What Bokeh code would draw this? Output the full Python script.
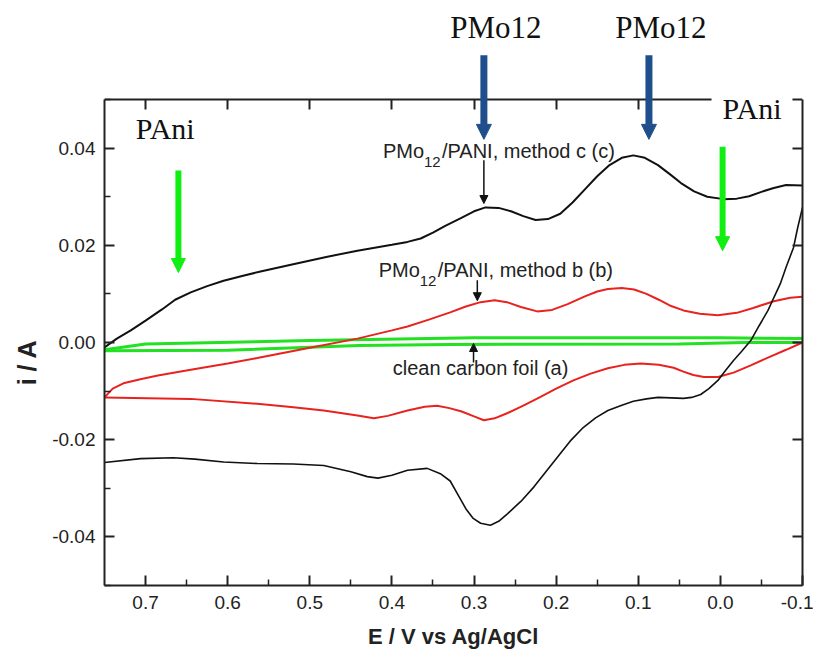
from bokeh.plotting import figure
from bokeh.models import (Range1d, LinearAxis, FixedTicker, PrintfTickFormatter,
                          Label, Arrow, NormalHead)
from bokeh.embed import file_html
from bokeh.resources import INLINE

# ---------------- data ----------------
# method c (black) - anodic (upper) branch
c_up_E = [0.750, 0.735, 0.718, 0.700, 0.680, 0.664, 0.645, 0.625, 0.605, 0.580, 0.560,
          0.523, 0.480, 0.442, 0.400, 0.381, 0.365, 0.350, 0.335, 0.316, 0.300, 0.286,
          0.270, 0.255, 0.240, 0.225, 0.210, 0.195, 0.180, 0.165, 0.150, 0.135, 0.120,
          0.106, 0.092, 0.076, 0.062, 0.048, 0.032, 0.016, -0.004, -0.020, -0.035,
          -0.050, -0.065, -0.080, -0.100]
c_up_i = [-0.0010, 0.0008, 0.0025, 0.0045, 0.0068, 0.0088, 0.0103, 0.0116, 0.0127, 0.0138,
          0.0146, 0.0160, 0.0176, 0.0189, 0.0201, 0.0207, 0.0214, 0.0226, 0.0240, 0.0256,
          0.0270, 0.0278, 0.0277, 0.0270, 0.0260, 0.0252, 0.0254, 0.0265, 0.0288, 0.0315,
          0.0342, 0.0365, 0.0380, 0.0385, 0.0380, 0.0365, 0.0347, 0.0328, 0.0311, 0.0300,
          0.0295, 0.0296, 0.0301, 0.0310, 0.0318, 0.0324, 0.0323]
# method c (black) - cathodic (lower) branch
c_dn_E = [-0.100, -0.094, -0.089, -0.080, -0.073, -0.065, -0.058, -0.047, -0.037, -0.026,
          -0.016, -0.006, 0.003, 0.014, 0.024, 0.035, 0.045, 0.060, 0.076, 0.090, 0.106,
          0.120, 0.137, 0.152, 0.167, 0.183, 0.198, 0.213, 0.227, 0.243, 0.259, 0.270,
          0.280, 0.292, 0.301, 0.310, 0.320, 0.329, 0.341, 0.357, 0.381, 0.400, 0.417,
          0.430, 0.450, 0.483, 0.520, 0.564, 0.605, 0.640, 0.666, 0.706, 0.750]
c_dn_i = [0.0278, 0.0235, 0.0195, 0.0155, 0.0121, 0.0092, 0.0066, 0.0034, 0.0004, -0.0018,
          -0.0037, -0.0058, -0.0078, -0.0095, -0.0107, -0.0113, -0.0115, -0.0114, -0.0113,
          -0.0116, -0.0121, -0.0129, -0.0140, -0.0155, -0.0175, -0.0203, -0.0235, -0.0267,
          -0.0297, -0.0327, -0.0352, -0.0368, -0.0376, -0.0372, -0.0362, -0.0342, -0.0312,
          -0.0285, -0.0270, -0.0259, -0.0263, -0.0273, -0.0279, -0.0276, -0.0266, -0.0253,
          -0.0250, -0.0249, -0.0246, -0.0240, -0.0237, -0.0239, -0.0247]
# method b (red)
b_up_E = [0.750, 0.740, 0.727, 0.705, 0.685, 0.645, 0.600, 0.564, 0.503, 0.442, 0.400,
          0.381, 0.355, 0.329, 0.310, 0.292, 0.275, 0.260, 0.243, 0.223, 0.205, 0.186,
          0.165, 0.150, 0.137, 0.120, 0.105, 0.090, 0.075, 0.060, 0.045, 0.025, 0.003,
          -0.020, -0.040, -0.065, -0.085, -0.100]
b_up_i = [-0.0113, -0.0095, -0.0084, -0.0075, -0.0068, -0.0056, -0.0043, -0.0032, -0.0012,
          0.0008, 0.0025, 0.0033, 0.0047, 0.0062, 0.0074, 0.0083, 0.0087, 0.0083, 0.0073,
          0.0064, 0.0067, 0.0079, 0.0095, 0.0105, 0.0110, 0.0112, 0.0109, 0.0100, 0.0088,
          0.0075, 0.0066, 0.0059, 0.0056, 0.0061, 0.0071, 0.0085, 0.0092, 0.0094]
b_dn_E = [-0.100, -0.080, -0.058, -0.037, -0.016, 0.003, 0.020, 0.033, 0.045, 0.057, 0.075,
          0.097, 0.117, 0.137, 0.158, 0.179, 0.200, 0.219, 0.240, 0.259, 0.275, 0.288, 0.300,
          0.315, 0.330, 0.345, 0.360, 0.381, 0.405, 0.422, 0.442, 0.483, 0.520, 0.564, 0.645,
          0.750]
b_dn_i = [0.0000, -0.0015, -0.0031, -0.0047, -0.0062, -0.0071, -0.0071, -0.0067, -0.0060,
          -0.0052, -0.0046, -0.0043, -0.0046, -0.0053, -0.0064, -0.0078, -0.0095, -0.0112,
          -0.0130, -0.0145, -0.0156, -0.0160, -0.0152, -0.0142, -0.0135, -0.0130, -0.0132,
          -0.0140, -0.0151, -0.0156, -0.0150, -0.0140, -0.0133, -0.0126, -0.0116, -0.0113]
# clean carbon foil (green)
a_up_E = [0.750, 0.700, 0.500, 0.300, 0.000, -0.100]
a_up_i = [-0.0015, -0.0003, 0.0004, 0.0010, 0.0010, 0.0008]
a_dn_E = [0.750, 0.600, 0.440, 0.330, 0.050, -0.030, -0.100]
a_dn_i = [-0.0017, -0.0016, -0.0006, -0.0004, -0.0003, 0.0000, 0.0000]

x_major = [0.7, 0.6, 0.5, 0.4, 0.3, 0.2, 0.1, 0.0, -0.1]
x_minor = [0.65, 0.55, 0.45, 0.35, 0.25, 0.15, 0.05, -0.05]
y_major = [-0.04, -0.02, 0.0, 0.02, 0.04]
y_minor = [-0.05, -0.03, -0.01, 0.01, 0.03, 0.05]
y_lo, y_hi = -0.05, 0.05

# curve labels: (main text, subscript, rest), anchor E, centre i
label_head = ["PMo", "PMo", "clean carbon foil (a)"]
label_sub = ["12", "12", ""]
label_tail = ["/PANI, method c (c)", "/PANI, method b (b)", ""]
label_E = [0.411, 0.416, 0.399]
label_i = [0.0395, 0.0150, -0.0053]
pointer_E = [0.288, 0.296, 0.3006]
pointer_i0 = [0.0375, 0.0128, -0.0041]
pointer_i1 = [0.0286, 0.0086, -0.0002]

pmo_E = [0.288, 0.087]
pmo_i0, pmo_i1, pmo_text_i = 0.0591, 0.0418, 0.0648
pani_E = [0.660, -0.0027]
pani_i0 = [0.0354, 0.0403]
pani_i1 = [0.0144, 0.0189]

# ---------------- figure ----------------
W, H = 813, 655
FRAME_TOP_I = 0.07037      # frame reaches the canvas top so the arrows above the box show
p = figure(width=W, height=H, output_backend="svg", toolbar_location=None,
           x_range=Range1d(0.75, -0.1), y_range=Range1d(y_lo, FRAME_TOP_I),
           min_border_left=104, min_border_right=11, min_border_top=0, min_border_bottom=70,
           x_axis_label="E / V vs Ag/AgCl", y_axis_label="i / A" + "\u00a0" * 20)
p.outline_line_color = None
p.grid.visible = False
p.background_fill_color = "white"
p.border_fill_color = "white"

SANS = "Liberation Sans"
SERIF = "Liberation Serif"
INK = "#222222"

def style_axis(ax):
    ax.axis_line_width = 2
    ax.axis_line_color = INK
    ax.major_tick_line_width = 2
    ax.major_tick_line_color = INK
    ax.minor_tick_line_width = 1.5
    ax.minor_tick_line_color = INK
    ax.major_tick_in = 10
    ax.major_tick_out = 0
    ax.minor_tick_in = 6
    ax.minor_tick_out = 0

xa = p.xaxis[0]
xa.ticker = FixedTicker(ticks=x_major, minor_ticks=x_minor)
xa.formatter = PrintfTickFormatter(format="%.1f")
style_axis(xa)
xa.major_label_text_font = SANS
xa.major_label_text_font_size = "19px"
xa.major_label_text_color = INK
xa.major_label_standoff = 10
xa.axis_label_text_font = SANS
xa.axis_label_text_font_size = "22px"
xa.axis_label_text_font_style = "bold"
xa.axis_label_text_color = INK
xa.axis_label_standoff = 12

ya = p.yaxis[0]
ya.ticker = FixedTicker(ticks=y_major, minor_ticks=y_minor)
ya.formatter = PrintfTickFormatter(format="%.2f")
ya.bounds = (y_lo, y_hi)
style_axis(ya)
ya.major_label_text_font = SANS
ya.major_label_text_font_size = "19px"
ya.major_label_text_color = INK
ya.major_label_standoff = 9
ya.axis_label_text_font = SANS
ya.axis_label_text_font_size = "25px"
ya.axis_label_text_font_style = "bold"
ya.axis_label_text_color = INK
ya.axis_label_standoff = 8

top = LinearAxis(ticker=FixedTicker(ticks=x_major[:-1], minor_ticks=[]),
                 fixed_location=y_hi,
                 major_label_overrides={t: "" for t in x_major})
style_axis(top)
top.major_label_standoff = 0
p.add_layout(top, "above")

right = LinearAxis(ticker=FixedTicker(ticks=y_major, minor_ticks=[]), bounds=(y_lo, y_hi),
                   major_label_overrides={t: "" for t in y_major})
style_axis(right)
right.major_label_standoff = 0
p.add_layout(right, "right")

# ---------------- curves ----------------
p.line(a_up_E, a_up_i, line_color="#22e022", line_width=3)
p.line(a_dn_E, a_dn_i, line_color="#22e022", line_width=3)
p.line(b_up_E, b_up_i, line_color="#e8231f", line_width=2)
p.line(b_dn_E, b_dn_i, line_color="#e8231f", line_width=2)
p.line(c_up_E, c_up_i, line_color="#111111", line_width=2)
p.line(c_dn_E, c_dn_i, line_color="#111111", line_width=1.6)

# ---------------- annotations ----------------
for head, sub, tail, xe, yi in zip(label_head, label_sub, label_tail, label_E, label_i):
    p.add_layout(Label(x=xe, y=yi, text=head, text_font=SANS, text_font_size="20px",
                       text_color=INK, text_align="left", text_baseline="middle"))
    if sub:
        p.add_layout(Label(x=xe, y=yi, x_offset=41, y_offset=-11, text=sub, text_font=SANS,
                           text_font_size="15px", text_color=INK, text_align="left",
                           text_baseline="middle"))
        p.add_layout(Label(x=xe, y=yi, x_offset=59, text=tail, text_font=SANS,
                           text_font_size="20px", text_color=INK, text_align="left",
                           text_baseline="middle"))
for xe, y0, y1 in zip(pointer_E, pointer_i0, pointer_i1):
    p.add_layout(Arrow(x_start=xe, y_start=y0, x_end=xe, y_end=y1, line_color="#111111",
                       line_width=1.5,
                       end=NormalHead(size=8, fill_color="#111111", line_color="#111111",
                                      line_width=1)))

# blue PMo12 arrows above the box
for xe in pmo_E:
    p.add_layout(Arrow(x_start=xe, y_start=pmo_i0, x_end=xe, y_end=pmo_i1,
                       line_color="#1f4e8c", line_width=7,
                       end=NormalHead(size=15, fill_color="#1f4e8c", line_color="#1f4e8c",
                                      line_width=1)))
    p.add_layout(Label(x=xe, y=pmo_text_i, x_offset=12, text="PMo12", text_font=SERIF,
                       text_font_size="31px", text_color="#111111", text_align="center",
                       text_baseline="middle"))

# green PAni arrows
for xe, y0, y1 in zip(pani_E, pani_i0, pani_i1):
    p.add_layout(Arrow(x_start=xe, y_start=y0, x_end=xe, y_end=y1,
                       line_color="#11ee11", line_width=6,
                       end=NormalHead(size=14, fill_color="#11ee11", line_color="#11ee11",
                                      line_width=1)))

p.add_layout(Label(x=0.712, y=0.0440, text="PAni", text_font=SERIF, text_font_size="30px",
                   text_color="#111111", text_align="left", text_baseline="middle"))
p.add_layout(Label(x=-0.0385, y=0.0481, text="PAni", text_font=SERIF, text_font_size="30px",
                   text_color="#111111", text_align="center", text_baseline="middle",
                   background_fill_color="white", padding=11))

open("out.html", "w").write(file_html(p, INLINE))
